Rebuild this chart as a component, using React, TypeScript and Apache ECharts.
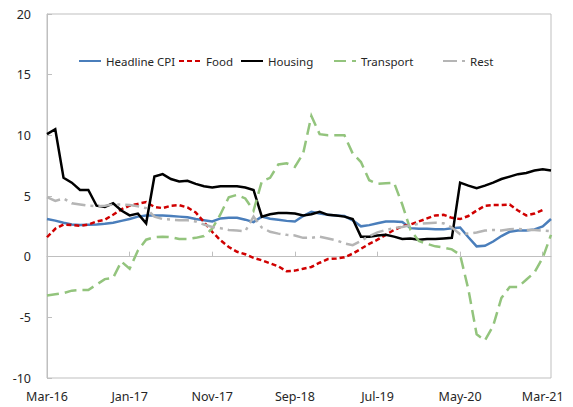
import React, { useEffect, useRef } from "react";
import * as echarts from "echarts";

const months = [
  "Mar-16","Apr-16","May-16","Jun-16","Jul-16","Aug-16","Sep-16","Oct-16","Nov-16","Dec-16",
  "Jan-17","Feb-17","Mar-17","Apr-17","May-17","Jun-17","Jul-17","Aug-17","Sep-17","Oct-17",
  "Nov-17","Dec-17","Jan-18","Feb-18","Mar-18","Apr-18","May-18","Jun-18","Jul-18","Aug-18",
  "Sep-18","Oct-18","Nov-18","Dec-18","Jan-19","Feb-19","Mar-19","Apr-19","May-19","Jun-19",
  "Jul-19","Aug-19","Sep-19","Oct-19","Nov-19","Dec-19","Jan-20","Feb-20","Mar-20","Apr-20",
  "May-20","Jun-20","Jul-20","Aug-20","Sep-20","Oct-20","Nov-20","Dec-20","Jan-21","Feb-21",
  "Mar-21","Apr-21",
];

const seriesNames = ["Headline CPI", "Food", "Housing", "Transport", "Rest"];

const headlineCPI = [
  3.1, 2.97, 2.8, 2.65, 2.6, 2.64, 2.66, 2.72, 2.8, 2.95,
  3.1, 3.3, 3.4, 3.4, 3.4, 3.35, 3.3, 3.24, 3.1, 3.0,
  2.9, 3.15, 3.2, 3.2, 3.05, 2.85, 3.3, 3.13, 3.05, 2.95,
  2.9, 3.35, 3.7, 3.55, 3.45, 3.4, 3.35, 3.0, 2.5, 2.6,
  2.75, 2.9, 2.9, 2.85, 2.35, 2.3, 2.3, 2.25, 2.25, 2.35,
  2.4, 1.6, 0.85, 0.9, 1.25, 1.7, 2.05, 2.15, 2.15, 2.25,
  2.5, 3.1,
];

const food = [
  1.6, 2.3, 2.65, 2.6, 2.55, 2.65, 2.9, 3.05, 3.45, 3.9,
  4.2, 4.35, 4.5, 4.1, 4.0, 4.2, 4.25, 4.05, 3.65, 2.85,
  2.05, 1.35, 0.8, 0.4, 0.2, -0.1, -0.3, -0.55, -0.8, -1.2,
  -1.15, -1.0, -0.85, -0.5, -0.2, -0.15, -0.05, 0.25, 0.65, 1.05,
  1.4, 1.8, 2.2, 2.5, 2.65, 2.9, 3.15, 3.4, 3.45, 3.2,
  3.1, 3.35, 3.8, 4.2, 4.25, 4.25, 4.3, 3.8, 3.4, 3.55,
  3.85, null,
];

const housing = [
  10.1, 10.5, 6.5, 6.1, 5.5, 5.5, 4.2, 4.1, 4.4, 3.8,
  3.4, 3.55, 2.75, 6.6, 6.8, 6.4, 6.2, 6.25, 6.0, 5.8,
  5.7, 5.8, 5.8, 5.8, 5.7, 5.5, 3.3, 3.5, 3.6, 3.6,
  3.55, 3.4, 3.5, 3.7, 3.45, 3.4, 3.3, 3.1, 1.65, 1.65,
  1.75, 1.8, 1.65, 1.45, 1.5, 1.4, 1.45, 1.45, 1.5, 1.55,
  6.1, 5.85, 5.65, 5.85, 6.1, 6.4, 6.6, 6.8, 6.9, 7.1,
  7.2, 7.1,
];

const transport = [
  -3.2, -3.1, -3.0, -2.8, -2.75, -2.75, -2.3, -1.85, -1.75, -0.4,
  -1.0, 0.5, 1.4, 1.6, 1.65, 1.6, 1.45, 1.45, 1.55, 1.7,
  2.3, 3.5, 4.9, 5.1, 4.8, 3.8, 6.2, 6.5, 7.6, 7.7,
  7.4, 8.5, 11.6, 10.1, 10.0, 10.0, 10.0, 8.5, 7.8, 6.3,
  6.0, 6.05, 6.1, 4.3, 2.2, 1.3, 1.05, 0.85, 0.75, 0.6,
  0.15, -2.7, -6.4, -6.9, -5.7, -3.4, -2.5, -2.5, -1.9, -1.3,
  -0.1, 1.8,
];

const rest = [
  4.9, 4.6, 4.8, 4.4, 4.3, 4.2, 4.15, 4.2, 4.3, 4.3,
  4.25, 4.15, 4.0, 3.3, 3.1, 3.05, 3.0, 3.0, 2.9, 2.65,
  2.45, 2.35, 2.2, 2.15, 2.1, 3.3, 2.4, 2.05, 1.9, 1.8,
  1.75, 1.55, 1.55, 1.65, 1.5, 1.35, 1.1, 0.95, 1.3, 1.7,
  2.0, 2.2, 2.35, 2.45, 2.6, 2.7, 2.75, 2.8, 2.75, 2.4,
  1.85, 1.9, 2.0, 2.15, 2.2, 2.15, 2.25, 2.3, 2.2, 2.2,
  2.15, 2.1,
];

const yMin = -10;
const yMax = 20;
const yStep = 5;

const FONT = "'Noto Sans', 'Open Sans', sans-serif";
const TEXT = "#262626";
const AXIS = "#bfbfbf";

const legendLefts = [78, 178, 240, 333, 442];

export default function App() {
  const ref = useRef<HTMLDivElement>(null);

  useEffect(() => {
    if (!ref.current) return;
    const chart = echarts.init(ref.current, undefined, { renderer: "svg" });
    const lineSeries = (name: string, data: (number | null)[], color: string, type: any) => ({
      name,
      type: "line",
      data,
      xAxisIndex: 0,
      yAxisIndex: 0,
      symbol: "none",
      showSymbol: false,
      connectNulls: false,
      lineStyle: { color, width: 2.5, type, cap: "butt", join: "miter" },
      itemStyle: { color },
      emphasis: { disabled: true },
    });
    chart.setOption({
      animation: false,
      textStyle: { fontFamily: FONT },
      grid: {
        left: 47,
        right: 22,
        top: 14,
        bottom: 29,
        show: true,
        borderColor: AXIS,
        borderWidth: 1,
        backgroundColor: "transparent",
        containLabel: false,
      },
      legend: seriesNames.map((n, i) => ({
        top: 55,
        left: legendLefts[i],
        padding: 0,
        itemWidth: 22,
        itemHeight: 10,
        itemGap: 0,
        selectedMode: false,
        itemStyle: { color: "transparent", borderWidth: 0, opacity: 0 },
        textStyle: { fontSize: 11.5, color: TEXT, fontFamily: FONT },
        data: [n],
      })),
      xAxis: [
        {
          type: "category",
          data: months,
          boundaryGap: false,
          position: "bottom",
          axisLine: { show: false, onZero: false },
          axisTick: { show: false },
          splitLine: { show: false },
          axisLabel: {
            interval: 9,
            margin: 12,
            fontSize: 12.5,
            color: TEXT,
            fontFamily: FONT,
          },
        },
        {
          type: "category",
          data: months,
          boundaryGap: false,
          position: "bottom",
          axisLine: { show: true, onZero: true, lineStyle: { color: AXIS, width: 1 } },
          axisTick: {
            show: true,
            inside: true,
            interval: 9,
            length: 5,
            lineStyle: { color: AXIS, width: 1 },
          },
          axisLabel: { show: false },
          splitLine: { show: false },
        },
      ],
      yAxis: {
        type: "value",
        min: yMin,
        max: yMax,
        interval: yStep,
        axisLine: { show: true, lineStyle: { color: AXIS, width: 1 } },
        axisTick: { show: true, inside: true, length: 5, lineStyle: { color: AXIS } },
        splitLine: { show: false },
        axisLabel: { margin: 16, fontSize: 12.5, color: TEXT, fontFamily: FONT },
      },
      series: [
        lineSeries(seriesNames[0], headlineCPI, "#4a7ebb", "solid"),
        lineSeries(seriesNames[1], food, "#d00000", [5, 3]),
        lineSeries(seriesNames[2], housing, "#000000", "solid"),
        lineSeries(seriesNames[3], transport, "#93c47d", [12, 6]),
        lineSeries(seriesNames[4], rest, "#b5b5b5", [14, 5, 3, 5]),
      ],
    });
    return () => chart.dispose();
  }, []);

  return (
    <div
      ref={ref}
      style={{ position: "fixed", left: 0, top: 0, width: 573, height: 407, background: "#fff" }}
    />
  );
}
